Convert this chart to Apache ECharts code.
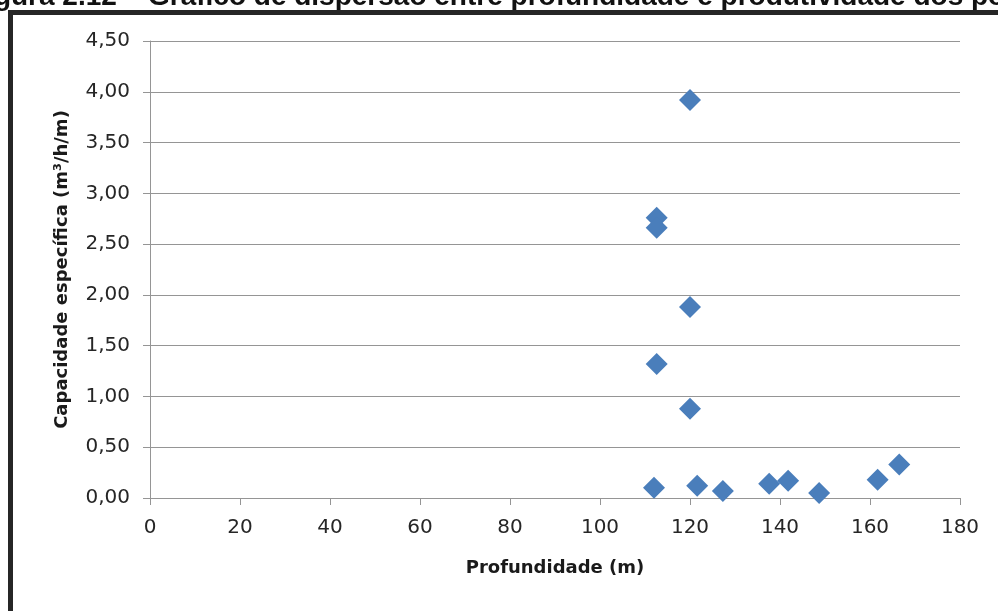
<!DOCTYPE html>
<html>
<head>
<meta charset="utf-8">
<script src="https://cdn.jsdelivr.net/npm/echarts@6/dist/echarts.min.js"></script>
<style>
  html, body { margin: 0; padding: 0; background: #fff; }
  #chart { width: 998px; height: 611px; }
</style>
</head>
<body>
<div id="chart"></div>
<script>
// profundidade (m) x capacidade especifica (m3/h/m)
var profundidade = [120, 112.6, 112.6, 120, 112.6, 120, 112, 121.6, 127.3, 137.6, 141.8, 148.7, 161.7, 166.5];
var capacidade   = [3.92, 2.76, 2.66, 1.88, 1.32, 0.88, 0.10, 0.12, 0.07, 0.14, 0.17, 0.05, 0.18, 0.33];

var figTitle = 'Figura 2.12 – Gráfico de dispersão entre profundidade e produtividade dos poços';
var xName = 'Profundidade (m)';
var yName = 'Capacidade específica (m³/h/m)';

var points = profundidade.map(function (d, i) { return [d, capacidade[i]]; });

var chart = echarts.init(document.getElementById('chart'));

var option = {
  backgroundColor: '#ffffff',
  animation: false,
  textStyle: { fontFamily: 'DejaVu Sans, sans-serif' },
  graphic: [
    {
      type: 'text',
      left: -31,
      top: -17,
      style: { text: figTitle, font: 'bold 28px "Liberation Sans", Arial, sans-serif', fill: '#111' }
    },
    {
      type: 'polyline',
      shape: { points: [[10.5, 611], [10.5, 12.5], [998, 12.5]] },
      style: { stroke: '#262626', lineWidth: 5, fill: null }
    }
  ],
  grid: { left: 150, right: 38, top: 41, bottom: 113 },
  xAxis: {
    type: 'value',
    min: 0, max: 180, interval: 20,
    name: xName,
    nameLocation: 'middle',
    nameGap: 61,
    nameTextStyle: { fontSize: 18, fontWeight: 'bold', color: '#1a1a1a' },
    axisLine: { show: true, lineStyle: { color: '#959595', width: 1 } },
    axisTick: { show: true, length: 7, lineStyle: { color: '#959595' } },
    axisLabel: { fontSize: 20, color: '#262626', margin: 20 },
    splitLine: { show: false }
  },
  yAxis: {
    type: 'value',
    min: 0, max: 4.5, interval: 0.5,
    name: yName,
    nameLocation: 'middle',
    nameGap: 79,
    nameTextStyle: { fontSize: 18, fontWeight: 'bold', color: '#1a1a1a' },
    axisLine: { show: true, lineStyle: { color: '#959595', width: 1 } },
    axisTick: { show: true, length: 7, lineStyle: { color: '#959595' } },
    axisLabel: {
      fontSize: 20, color: '#262626', margin: 20,
      formatter: function (v) { return v.toFixed(2).replace('.', ','); }
    },
    splitLine: { show: true, lineStyle: { color: '#959595', width: 1 } }
  },
  series: [
    {
      type: 'scatter',
      data: points,
      symbol: 'diamond',
      symbolSize: [22, 22],
      itemStyle: { color: '#4a7ebb', opacity: 1 }
    }
  ]
};

chart.setOption(option);
</script>
</body>
</html>
